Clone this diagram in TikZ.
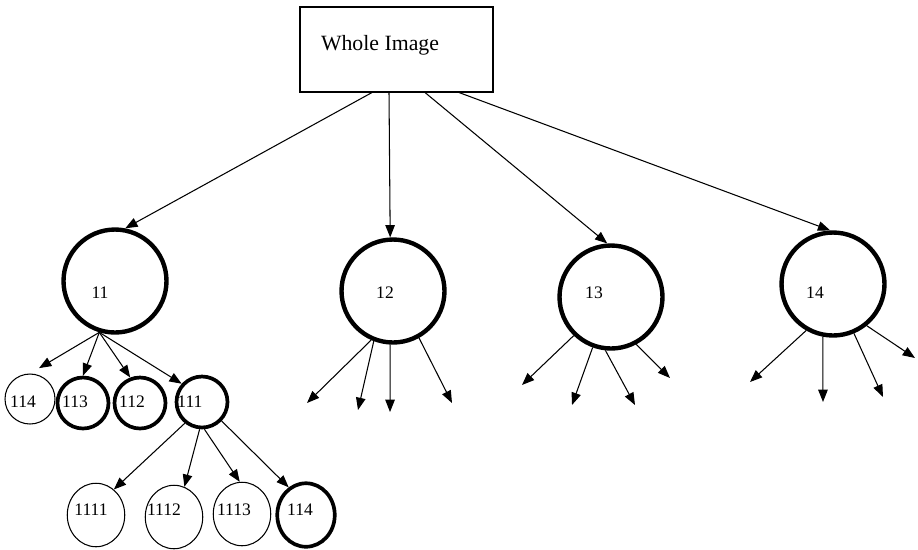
\documentclass[tikz,border=0pt]{standalone}
\usepackage{fontspec}
\setmainfont{Liberation Serif}
\usetikzlibrary{arrows.meta,calc,shapes.geometric}

\begin{document}
\begin{tikzpicture}[x=0.02cm, y=-0.02cm, line width=0.6pt,
        >={Triangle[length=7pt,width=5.4pt]},
        bigring/.style={draw, circle, line width=2.5pt, minimum size=2.06cm, inner sep=0pt},
        ring/.style={draw, circle, line width=2.1pt, minimum size=1.02cm, inner sep=0pt},
        thinring/.style={draw, circle, minimum size=1.0cm, inner sep=0pt},
        leaf/.style={draw, ellipse, minimum width=1.15cm, minimum height=1.27cm, inner sep=0pt},
        num/.style={font=\fontsize{10}{12}\selectfont, inner sep=0pt}]
                \useasboundingbox (0,0) rectangle (918,549);

                \node[draw, minimum width=3.86cm, minimum height=1.7cm] (whole) at (396.5,49.5) {};
                \node[font=\fontsize{12.4}{14}\selectfont, inner sep=0pt] (wtext) at (380,45) {Whole Image};

                \node[bigring] (c11) at (115,281) {};
                \node[bigring] (c12) at (393,291) {};
                \node[bigring] (c13) at (611,297) {};
                \node[bigring] (c14) at (833,284) {};
                \node[num] (t11) at (100,293) {11};
                \node[num] (t12) at (385,293) {12};
                \node[num] (t13) at (594,293) {13};
                \node[num] (t14) at (815,293) {14};

                \node[thinring] (c114) at (30,399) {};
                \node[ring] (c113) at (83,403) {};
                \node[ring] (c112) at (140,403) {};
                \node[ring] (c111) at (202,402) {};
                \node[num] (t114) at (23,402) {114};
                \node[num] (t113) at (75,402) {113};
                \node[num] (t112) at (132,402) {112};
                \node[num] (t111) at (190,402) {111};

                \node[leaf] (c1111) at (96,515) {};
                \node[leaf] (c1112) at (174,517) {};
                \node[leaf] (c1113) at (242,514) {};
                \node[leaf, line width=2.1pt] (c1114) at (306,515) {};
                \node[num] (t1111) at (91,510) {1111};
                \node[num] (t1112) at (164,510) {1112};
                \node[num] (t1113) at (234,510) {1113};
                \node[num] (t1114) at (300,510) {114};

                % loose ends below 12, 13 and 14
                \coordinate (e121) at (307,403);
                \coordinate (e122) at (358,410);
                \coordinate (e123) at (390,412);
                \coordinate (e124) at (452,403);
                \coordinate (e131) at (522,385);
                \coordinate (e132) at (572,405);
                \coordinate (e133) at (635,405);
                \coordinate (e134) at (670,378);
                \coordinate (e141) at (750,382);
                \coordinate (e142) at (823,402);
                \coordinate (e143) at (883,397);
                \coordinate (e144) at (915,358);

                \path[->]
                    ($(whole.south)+(-24.5,0)$) edge (c11.79)
                    ($(whole.south)+(-7.5,0)$) edge (c12.93)
                    ($(whole.south)+(28.5,0)$) edge (c13.94)
                    ($(whole.south)+(62.5,0)$) edge (c14.93)

                    (c11.253) edge[shorten >=6pt] (c114.north)
                    (c11.253) edge (c113.north)
                    (c11.253) edge (c112.111)
                    (c11.253) edge (c111.138)

                    (c111.231) edge (c1111.55)
                    (c111.265) edge (c1112.71)
                    (c111.275) edge (c1113.94)
                    (c111.316) edge (c1114.122)

                    (c12.246) edge (e121)
                    (c12.249) edge (e122)
                    (c12.267) edge (e123)
                    (c12.299) edge (e124)

                    (c13.226) edge (e131)
                    (c13.250) edge (e132)
                    (c13.264) edge (e133)
                    (c13.298) edge (e134)

                    (c14.240) edge (e141)
                    (c14.259) edge (e142)
                    (c14.293) edge (e143)
                    (c14.309) edge (e144)
                    ;
            \end{tikzpicture}
\end{document}
